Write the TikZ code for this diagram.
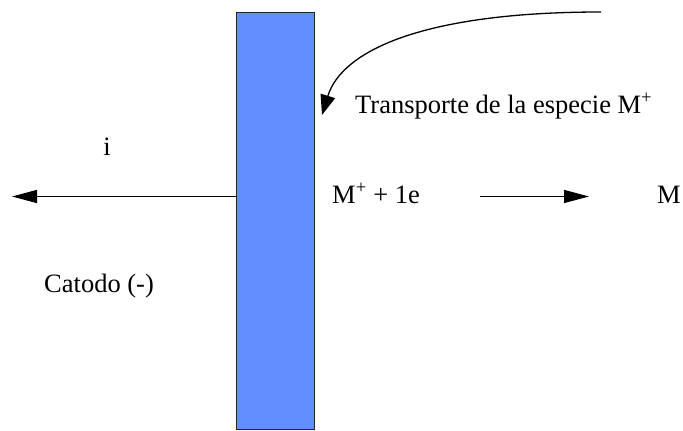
\documentclass[tikz,border=0pt]{standalone}
\usepackage{fontspec}
\setmainfont{Liberation Serif}
\usetikzlibrary{arrows.meta}
\definecolor{electrodeblue}{RGB}{99,142,255}
\tikzset{
  electrode/.style={draw=black!85, line width=1pt, fill=electrodeblue, minimum width=78pt, minimum height=417pt, inner sep=0pt},
  lbl/.style={font=\fontsize{26.5}{31}\selectfont, inner sep=0pt, anchor=base west},
  flow/.style={line width=1.3pt, -{Triangle[length=25pt,width=13pt]}},
  curvearrow/.style={line width=1.3pt, -{Triangle[length=20pt,width=15pt]}}
}
\begin{document}
\begin{tikzpicture}[x=1pt,y=-1pt]
\path[use as bounding box] (0,0) rectangle (683,431);
\node[electrode] (cat) at (275,220.5) {};
\coordinate (cstart) at (601,12);
\coordinate (ctip) at (322,115);
\draw[curvearrow] (cstart) .. controls (425,12) and (342,50) .. (ctip);
\node[lbl] (transp) at (355,113) {Transporte de la especie M\textsuperscript{+}};
\node[lbl, anchor=base] (i) at (107,155) {i};
\coordinate (lstart) at (237,196.5);
\coordinate (ltip) at (12,196.5);
\draw[flow] (lstart) -- (ltip);
\node[lbl] (react) at (332,203) {M\textsuperscript{+} + 1e};
\coordinate (rstart) at (480,196.5);
\coordinate (rtip) at (589,196.5);
\draw[flow] (rstart) -- (rtip);
\node[lbl] (prod) at (657,203) {M};
\node[lbl] (catodo) at (44,292) {Catodo (-)};
\end{tikzpicture}
\end{document}
